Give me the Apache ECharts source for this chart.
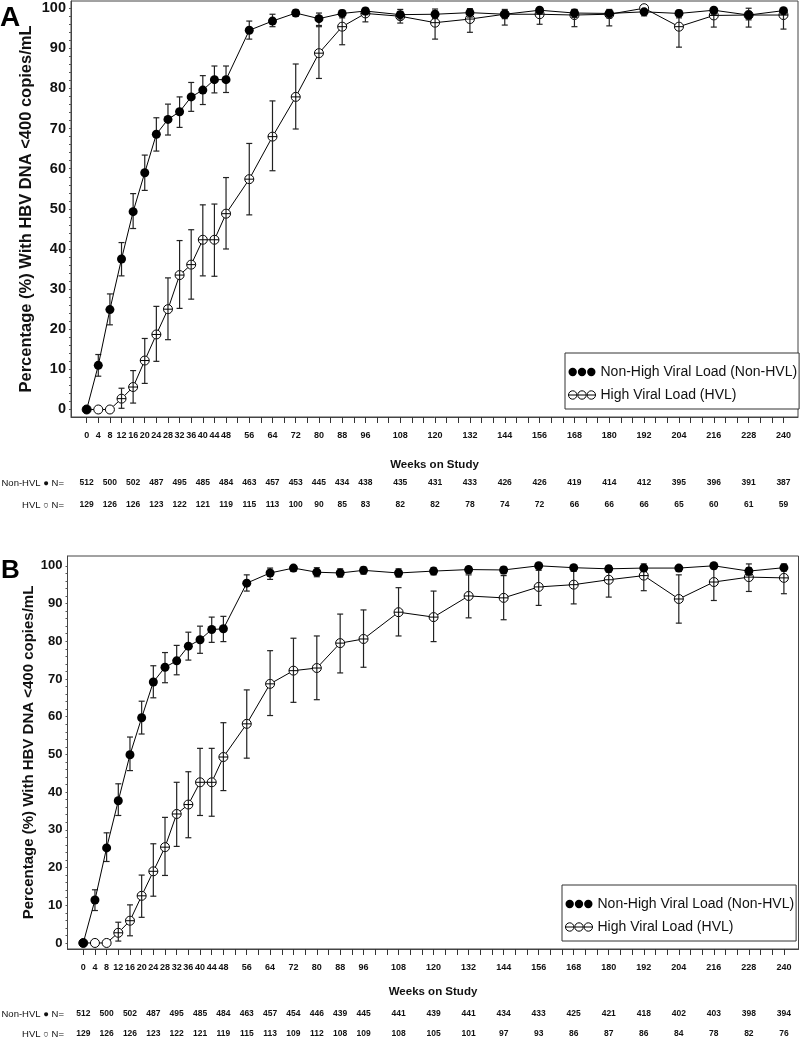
<!DOCTYPE html>
<html><head><meta charset="utf-8">
<script src="https://cdn.jsdelivr.net/npm/echarts@6/dist/echarts.min.js"></script>
<style>html,body{margin:0;padding:0;background:#fff}#c{width:800px;height:1047px}</style>
</head><body><div id="c"></div>
<script>
// ---------- data ----------
const weeks = [0,4,8,12,16,20,24,28,32,36,40,44,48,56,64,72,80,88,96,108,120,132,144,156,168,180,192,204,216,228,240];
const xTickLabels = [0,4,8,12,16,20,24,28,32,36,40,44,48,56,64,72,80,88,96,108,120,132,144,156,168,180,192,204,216,228,240];
const yTickLabels = [0,10,20,30,40,50,60,70,80,90,100];
const nWeeks = [0,8,16,24,32,40,48,56,64,72,80,88,96,108,120,132,144,156,168,180,192,204,216,228,240];
const seriesNames = ['Non-High Viral Load (Non-HVL)', 'High Viral Load (HVL)'];
const yTitle = 'Percentage (%) With HBV DNA <400 copies/mL';

// Panel A
const aNonHvl     = [0,11.0,24.9,37.5,49.3,59.0,68.6,72.3,74.2,77.9,79.6,82.2,82.2,94.5,96.8,98.8,97.4,98.7,99.3,98.4,98.5,98.9,98.5,99.5,98.8,98.7,99.1,98.7,99.5,98.3,99.4];
const aNonHvlLow  = [null,8.3,21.1,33.3,45.1,54.6,64.4,68.4,70.3,74.3,76.0,78.9,79.0,92.3,95.4,98.0,95.7,97.6,98.4,97.3,97.4,97.8,97.4,98.6,97.7,97.6,98.1,97.6,98.5,97.1,98.4];
const aNonHvlHigh = [null,13.7,28.8,41.6,53.8,63.4,72.7,76.1,77.9,81.5,83.2,85.6,85.6,96.8,98.5,99.6,98.8,99.5,99.9,99.2,99.3,99.6,99.3,99.9,99.6,99.5,99.7,99.5,99.9,99.2,99.9];
const aHvl        = [0,0,0,2.7,5.6,12.2,18.7,25.0,33.5,36.1,42.3,42.3,48.8,57.4,68.0,77.9,88.8,95.4,98.7,98.0,96.4,97.3,98.5,98.5,98.3,98.5,100,95.4,98.2,98.3,98.3];
const aHvlLow     = [null,null,null,0.3,1.6,6.5,12.0,17.4,25.2,27.5,33.3,33.2,40.0,48.5,59.5,69.9,82.5,90.9,96.6,96.3,92.3,94.0,95.8,96.0,95.4,95.6,null,90.3,95.3,95.3,94.8];
const aHvlHigh    = [null,null,null,5.3,9.7,17.7,25.7,32.8,42.1,44.8,51.0,51.2,57.8,66.3,76.9,86.1,95.4,98.8,100,99.7,99.8,99.9,99.7,99.9,99.7,99.7,null,98.8,99.6,100,99.6];
const aNNonHvl    = [512,500,502,487,495,485,484,463,457,453,445,434,438,435,431,433,426,426,419,414,412,395,396,391,387];
const aNHvl       = [129,126,126,123,122,121,119,115,113,100,90,85,83,82,82,78,74,72,66,66,66,65,60,61,59];

// Panel B
const bNonHvl     = [0,11.4,25.2,37.7,49.9,59.7,69.2,73.1,74.8,78.7,80.4,83.1,83.3,95.4,98.1,99.4,98.3,98.1,98.8,98.1,98.6,99.0,98.9,100,99.5,99.2,99.4,99.4,100,98.6,99.5];
const bNonHvlLow  = [null,8.6,21.6,33.8,45.7,55.4,65.0,69.0,71.1,75.0,76.8,79.7,79.9,93.3,96.4,98.5,97.1,97.0,97.8,97.0,97.6,98.0,97.9,99.2,98.6,98.3,98.5,98.5,99.2,97.5,98.6];
const bNonHvlHigh = [null,14.1,29.2,42.2,54.6,64.1,73.5,77.0,78.9,82.4,84.0,86.4,86.6,97.6,99.4,100,99.5,99.2,99.7,99.2,99.5,99.8,99.7,100,100,99.9,100,100,100,99.5,100];
const bHvl        = [0,0,0,2.7,5.9,12.5,19.0,25.4,34.2,36.7,42.6,42.6,49.3,58.1,68.7,72.2,72.9,79.5,80.6,87.7,86.4,92.0,91.5,94.4,95.0,96.3,97.4,91.2,95.7,97.0,96.8];
const bHvlLow     = [null,null,null,0.5,1.9,6.8,12.4,17.9,25.6,27.9,33.8,33.6,40.4,49.0,60.3,63.8,64.5,71.6,73.1,81.4,79.9,86.2,85.7,89.5,89.9,91.7,93.4,84.8,90.8,93.2,92.6];
const bHvlHigh    = [null,null,null,5.5,10.1,18.0,26.3,33.3,42.6,45.4,51.6,51.6,58.4,67.1,77.5,80.8,81.4,87.2,88.3,94.2,93.3,97.6,97.4,98.8,98.6,100,100.5,97.6,99.4,100.5,100.5];
const bNNonHvl    = [512,500,502,487,495,485,484,463,457,454,446,439,445,441,439,441,434,433,425,421,418,402,403,398,394];
const bNHvl       = [129,126,126,123,122,121,119,115,113,109,112,108,109,108,105,101,97,93,86,87,86,84,78,82,76];

// ---------- styling / build ----------
const FN = "'Liberation Sans',Arial,sans-serif";
const FS = "'Liberation Sans',Arial,sans-serif";
const xTicks = []; for (let w = 0; w <= 240; w += 4) xTicks.push(w);
const yTicks = []; for (let v = 0; v <= 100; v += 2) yTicks.push(v);

const panels = [
  {nh: aNonHvl, nhL: aNonHvlLow, nhH: aNonHvlHigh, h: aHvl, hL: aHvlLow, hH: aHvlHigh, nN: aNNonHvl, nH: aNHvl,
   grid: {left: 71, top: 1, width: 727, height: 416}, ymin: -1.87, ymax: 101.8,
   yFont: 14.5, titleFont: 16.5, titleGap: 36, nameGap: 42, n1: 55, n2: 77, legendTop: 353, legendLeft: 565},
  {nh: bNonHvl, nhL: bNonHvlLow, nhH: bNonHvlHigh, h: bHvl, hL: bHvlLow, hH: bHvlHigh, nN: bNNonHvl, nH: bNHvl,
   grid: {left: 67.5, top: 556, width: 731, height: 393}, ymin: -1.6, ymax: 102.6,
   yFont: 13, titleFont: 15, titleGap: 31, nameGap: 37, n1: 54, n2: 74, legendTop: 885, legendLeft: 562}
];

function circ(cx, cy, r) { return 'M' + (cx - r) + ' ' + cy + 'a' + r + ' ' + r + ' 0 1 0 ' + (2 * r) + ' 0a' + r + ' ' + r + ' 0 1 0 ' + (-2 * r) + ' 0Z'; }
const iconFilled = 'path://' + circ(5, 5, 4.5) + circ(15, 5, 4.5) + circ(25, 5, 4.5);
const iconOpen = 'path://' + circ(5, 5, 4.5) + circ(15, 5, 4.5) + circ(25, 5, 4.5) + 'M0.5 5L9.5 5M10.5 5L19.5 5M20.5 5L29.5 5';

function errRender(meanTick) {
  return function (params, api) {
    const x = api.value(0), lo = api.value(1), hi = api.value(2), m = api.value(3);
    const pLo = api.coord([x, lo]), pHi = api.coord([x, hi]), pM = api.coord([x, m]);
    const cw = 3, mw = 4.5;
    const st = {stroke: '#222', lineWidth: 1.2};
    const ch = [
      {type: 'line', shape: {x1: pLo[0], y1: pLo[1], x2: pHi[0], y2: pHi[1]}, style: st},
      {type: 'line', shape: {x1: pLo[0] - cw, y1: pLo[1], x2: pLo[0] + cw, y2: pLo[1]}, style: st},
      {type: 'line', shape: {x1: pHi[0] - cw, y1: pHi[1], x2: pHi[0] + cw, y2: pHi[1]}, style: st}
    ];
    if (meanTick) ch.push({type: 'line', shape: {x1: pM[0] - mw, y1: pM[1], x2: pM[0] + mw, y2: pM[1]}, style: {stroke: '#000', lineWidth: 1}});
    return {type: 'group', children: ch};
  };
}

const grids = [], xAxes = [], yAxes = [], series = [], legends = [];
panels.forEach((p, g) => {
  grids.push(Object.assign({show: true, borderColor: '#444', borderWidth: 1, containLabel: false, outerBoundsMode: 'none'}, p.grid));
  const base = {type: 'value', gridIndex: g, min: -5.4, max: 245, splitLine: {show: false}};
  xAxes.push(Object.assign({}, base, {
    axisLine: {show: true, onZero: false, lineStyle: {color: '#444', width: 1}},
    axisTick: {show: true, customValues: xTicks, length: 6, lineStyle: {color: '#333'}},
    axisLabel: {customValues: xTickLabels, margin: 14, fontSize: 9, fontWeight: 'bold', fontFamily: FN, color: '#111'},
    name: 'Weeks on Study', nameLocation: 'middle', nameGap: p.nameGap, nameMoveOverlap: false,
    nameTextStyle: {fontSize: 11.5, fontWeight: 'bold', fontFamily: FN, color: '#111'}
  }));
  [[p.nN, p.n1], [p.nH, p.n2]].forEach(([arr, off]) => {
    xAxes.push(Object.assign({}, base, {
      position: 'bottom', offset: off, axisLine: {show: false}, axisTick: {show: false},
      axisLabel: {customValues: nWeeks, margin: 6, fontSize: 8.5, fontWeight: 'bold', fontFamily: FN, color: '#111',
        formatter: v => { const i = nWeeks.indexOf(v); return i >= 0 ? String(arr[i]) : ''; }}
    }));
  });
  yAxes.push({
    type: 'value', gridIndex: g, min: p.ymin, max: p.ymax, splitLine: {show: false},
    axisLine: {show: true, onZero: false, lineStyle: {color: '#444'}},
    axisTick: {show: true, customValues: yTicks, length: 2, lineStyle: {color: '#555'}},
    axisLabel: {customValues: yTickLabels, margin: 5, fontSize: p.yFont, fontWeight: 'bold', fontFamily: FN, color: '#111'},
    name: yTitle, nameLocation: 'middle', nameRotate: 90, nameGap: p.titleGap, nameMoveOverlap: false,
    nameTextStyle: {fontSize: p.titleFont, fontWeight: 'bold', fontFamily: FS, color: '#111'}
  });
  const xi = g * 3, yi = g;
  const bars = (lo, hi, val) => weeks.map((w, i) => lo[i] == null ? null : [w, lo[i], hi[i], val[i]]).filter(d => d);
  series.push({
    type: 'line', name: seriesNames[1], xAxisIndex: xi, yAxisIndex: yi, z: 2,
    data: weeks.map((w, i) => [w, p.h[i]]), symbol: 'circle', symbolSize: 9, showAllSymbol: true,
    itemStyle: {color: '#fff', borderColor: '#000', borderWidth: 1}, lineStyle: {color: '#000', width: 1}
  });
  series.push({
    type: 'custom', name: 'hvlErr' + g, xAxisIndex: xi, yAxisIndex: yi, z: 3,
    data: bars(p.hL, p.hH, p.h), renderItem: errRender(true), encode: {x: 0, y: [1, 2]}
  });
  series.push({
    type: 'custom', name: 'nonErr' + g, xAxisIndex: xi, yAxisIndex: yi, z: 4,
    data: bars(p.nhL, p.nhH, p.nh), renderItem: errRender(false), encode: {x: 0, y: [1, 2]}
  });
  series.push({
    type: 'line', name: seriesNames[0], xAxisIndex: xi, yAxisIndex: yi, z: 5,
    data: weeks.map((w, i) => [w, p.nh[i]]), symbol: 'circle', symbolSize: 9, showAllSymbol: true,
    itemStyle: {color: '#000'}, lineStyle: {color: '#000', width: 1}
  });
  legends.push({
    left: p.legendLeft, top: p.legendTop, orient: 'vertical', padding: [10, 2, 5, 3], itemGap: 5,
    itemWidth: 27, itemHeight: 9, backgroundColor: '#fff', borderColor: '#333', borderWidth: 1, borderRadius: 0,
    selectedMode: false, z: 10,
    textStyle: {fontSize: 14, fontFamily: FN, color: '#111', lineHeight: 18},
    data: [
      {name: seriesNames[0], icon: iconFilled, itemStyle: {color: '#000', borderWidth: 0}},
      {name: seriesNames[1], icon: iconOpen, itemStyle: {color: '#fff', borderColor: '#000', borderWidth: 1}}
    ]
  });
});

const chart = echarts.init(document.getElementById('c'), null, {renderer: 'canvas'});
chart.setOption({
  animation: false,
  backgroundColor: '#fff',
  grid: grids, xAxis: xAxes, yAxis: yAxes, series: series, legend: legends,
  graphic: [
    {type: 'text', left: 0, top: 4, style: {text: 'A', font: "bold 28px 'Liberation Sans',Arial,sans-serif", fill: '#000'}},
    {type: 'text', left: 1, top: 558, style: {text: 'B', font: "bold 26px 'Liberation Sans',Arial,sans-serif", fill: '#000'}},
    {type: 'text', x: 64, y: 483, style: {text: 'Non-HVL \u25CF N=', align: 'right', verticalAlign: 'middle', font: "9.5px " + FN, fill: '#111'}},
    {type: 'text', x: 64, y: 505, style: {text: 'HVL \u25CB N=', align: 'right', verticalAlign: 'middle', font: "9.5px " + FN, fill: '#111'}},
    {type: 'text', x: 64, y: 1014, style: {text: 'Non-HVL \u25CF N=', align: 'right', verticalAlign: 'middle', font: "9.5px " + FN, fill: '#111'}},
    {type: 'text', x: 64, y: 1034, style: {text: 'HVL \u25CB N=', align: 'right', verticalAlign: 'middle', font: "9.5px " + FN, fill: '#111'}}
  ]
});
</script></body></html>
